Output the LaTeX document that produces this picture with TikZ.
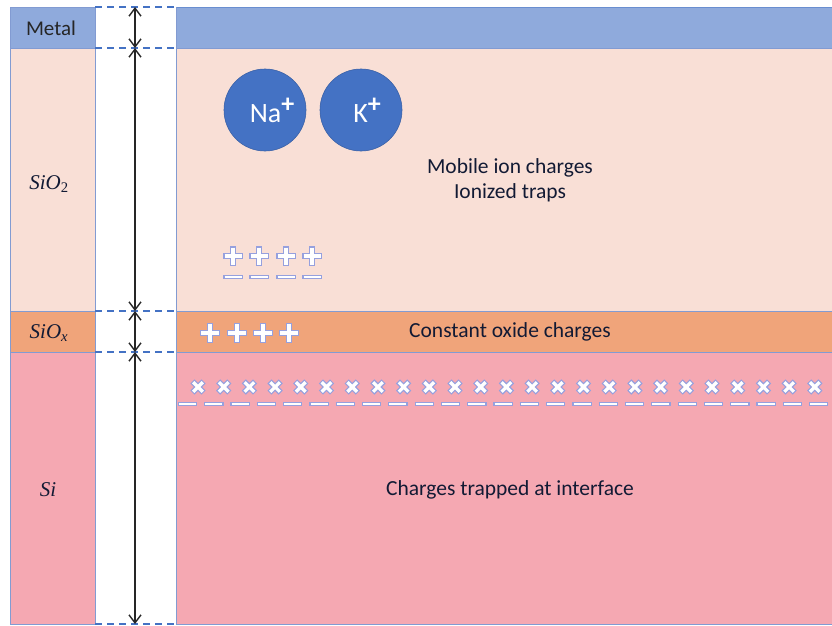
\documentclass[tikz,border=0pt]{standalone}
\usepackage{fontspec}
\setmainfont{Carlito}
\newfontfamily\layerfont{Liberation Serif}
\usetikzlibrary{positioning,calc}
\usetikzlibrary{arrows.meta}
\definecolor{MetalBlue}{RGB}{143,170,220}
\definecolor{OxidePeach}{RGB}{249,223,214}
\definecolor{SiOxOrange}{RGB}{240,164,122}
\definecolor{SiPink}{RGB}{245,168,178}
\definecolor{IonBlue}{RGB}{68,114,196}
\definecolor{EdgeBlue}{RGB}{130,155,210}
\definecolor{ChargeEdge}{RGB}{150,160,222}
\definecolor{TextNavy}{RGB}{18,26,52}
\tikzset{
  layer/.style={draw=EdgeBlue,line width=0.7pt},
  gap/.style={draw=IonBlue,dash pattern=on 7pt off 5pt,line width=1.5pt},
  span/.style={draw=black!85,line width=1.4pt,{Straight Barb[length=8pt,width=12pt,line width=1.4pt]}-{Straight Barb[length=8pt,width=12pt,line width=1.4pt]}},
  ion/.style={circle,fill=IonBlue,draw=IonBlue!85!black,line width=0.6pt,minimum size=82pt,inner sep=0pt,
    text=white,font=\fontsize{28}{28}\selectfont},
  note/.style={text=TextNavy,font=\fontsize{21.5}{25}\selectfont,align=center},
  tag/.style={text=black!85,font=\fontsize{21}{24}\selectfont},
  layertag/.style={tag,text=TextNavy,font=\layerfont\itshape\fontsize{21}{24}\selectfont},
  chgout/.style={draw=ChargeEdge,line width=6.8pt},
  chgin/.style={draw=white,line width=4.2pt},
}
% charge marks: x, y, half length
\newcommand{\pluscharge}[3]{%
  \draw[chgout] (#1-#3-1.2,#2) -- (#1+#3+1.2,#2) (#1,#2-#3-1.2) -- (#1,#2+#3+1.2);
  \draw[chgin] (#1-#3,#2) -- (#1+#3,#2) (#1,#2-#3) -- (#1,#2+#3);}
\newcommand{\minuscharge}[3]{%
  \draw[chgout,line width=4.5pt] (#1-#3-1.2,#2) -- (#1+#3+1.2,#2);
  \draw[chgin,line width=2.2pt] (#1-#3,#2) -- (#1+#3,#2);}
\newcommand{\crosscharge}[3]{%
  \draw[chgout,line width=5.8pt] (#1-#3-0.8,#2-#3-0.8) -- (#1+#3+0.8,#2+#3+0.8) (#1-#3-0.8,#2+#3+0.8) -- (#1+#3+0.8,#2-#3-0.8);
  \draw[chgin,line width=3.3pt] (#1-#3,#2-#3) -- (#1+#3,#2+#3) (#1-#3,#2+#3) -- (#1+#3,#2-#3);}
\newcommand{\ionsign}{\raisebox{0.36em}{\bfseries\fontsize{26}{26}\selectfont+}}

\begin{document}
\begin{tikzpicture}[x=1pt,y=-1pt]
\clip (0,0) rectangle (832,626);
% layers
\draw[layer,fill=MetalBlue] (10,7) rectangle (95,48);
\draw[layer,fill=OxidePeach] (10,48) rectangle (95,311);
\draw[layer,fill=SiOxOrange] (10,311) rectangle (95,352);
\draw[layer,fill=SiPink] (10,352) rectangle (95,624);
\draw[layer,fill=MetalBlue,draw=IonBlue!80] (176,7) rectangle (840,48);
\draw[layer,fill=OxidePeach] (176,48) rectangle (840,311);
\draw[layer,fill=SiOxOrange] (176,311) rectangle (840,352);
\draw[layer,fill=SiPink] (176,352) rectangle (840,624);
\draw[layer] (95,7) -- (95,624) (176,7) -- (176,624);

% thickness markers
\foreach \n/\y in {0/7,1/48,2/311,3/352,4/624}{
  \coordinate (l\n) at (95,\y);
  \coordinate (r\n) at (176,\y);
  \coordinate (m\n) at (135,\y);
  \draw[gap] (l\n) -- (r\n);
}
\draw[span] (m0) -- (m1);
\draw[span] (m1) -- (m2);
\draw[span] (m2) -- (m3);
\draw[span] (m3) -- (m4);

% layer names
\node[tag] (metal) at (51,28) {Metal};
\node[layertag] (sio2) at (49,184) {SiO\textsubscript{\upshape 2}};
\node[layertag] (siox) at (49,333) {SiO\textsubscript{x}};
\node[layertag] (si) at (48,490) {Si};

% ions
\node[ion] (na) at (265,110) {\hspace{14pt}Na\ionsign};
\node[ion] (k) at (361,110) {\hspace{12pt}K\ionsign};
\node[note] (mobile) at (510,180) {Mobile ion charges\\Ionized traps};
\node[note] (fixed) at (510,332) {Constant oxide charges};
\node[note] (trapped) at (510,490) {Charges trapped at interface};

% ionized traps
\foreach \x in {233,259,286,312}{
  \pluscharge{\x}{256}{8.5}
  \minuscharge{\x}{277}{8.5}
}
% oxide charges
\foreach \x in {210,237,263,289}{
  \pluscharge{\x}{333}{9}
}
% interface charges
\foreach \i in {0,...,24}{
  \crosscharge{198+25.7*\i}{387}{4.8}
}
\foreach \i in {0,...,25}{
  \minuscharge{187.5+26.3*\i}{404}{8.5}
}
\end{tikzpicture}
\end{document}
